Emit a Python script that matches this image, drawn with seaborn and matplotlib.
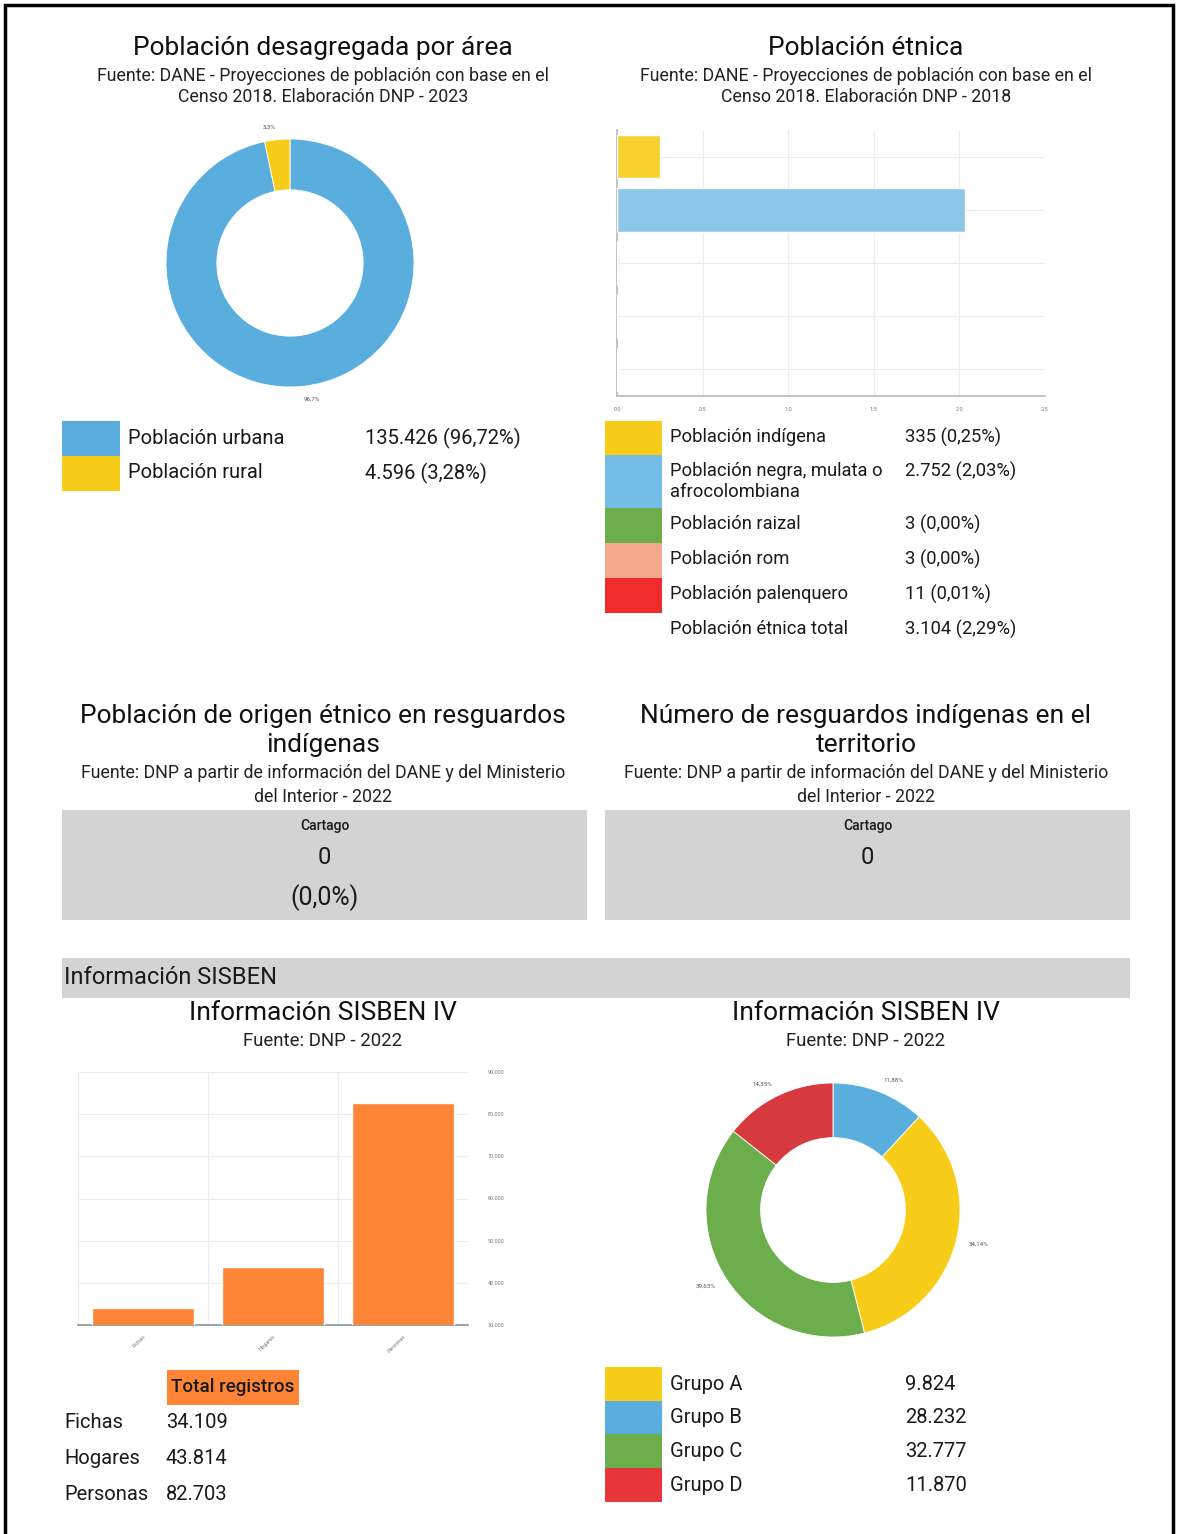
import seaborn as sns
import matplotlib.pyplot as plt
from matplotlib.patches import Rectangle
from matplotlib.ticker import FuncFormatter

# Datos de la ficha
area_labels = ['Población urbana', 'Población rural']
area_values = [135426, 4596]
area_text = ['135.426 (96,72%)', '4.596 (3,28%)']
area_pct = ['96,7%', '3,3%']
area_colors = ['#5aaede', '#f7cd1a']

etnia_labels = ['Población indígena', 'Población negra, mulata o\nafrocolombiana',
                'Población raizal', 'Población rom', 'Población palenquero']
etnia_pct = [0.25, 2.03, 0.002, 0.002, 0.008]
etnia_text = ['335 (0,25%)', '2.752 (2,03%)', '3 (0,00%)', '3 (0,00%)', '11 (0,01%)']
etnia_total = ['Población étnica total', '3.104 (2,29%)']
etnia_colors = ['#f7d22e', '#8cc6e8', '#6cae4c', '#f3a889', '#ef2b2b']
etnia_leg_colors = ['#f7cd1a', '#74bde6', '#6cae4c', '#f3a889', '#ef2b2b']
etnia_ticks = [0.0, 0.5, 1.0, 1.5, 2.0, 2.5]

sisben_cat = ['Fichas', 'Hogares', 'Personas']
sisben_vals = [34109, 43814, 82703]
sisben_text = ['34.109', '43.814', '82.703']
sisben_ticks = [30000, 40000, 50000, 60000, 70000, 80000, 90000]

grupo_labels = ['Grupo A', 'Grupo B', 'Grupo C', 'Grupo D']
grupo_vals = [9824, 28232, 32777, 11870]
grupo_text = ['9.824', '28.232', '32.777', '11.870']
grupo_colors = ['#f7cd1a', '#5aaede', '#6cae4c', '#e8343b']
# orden y colores de las porciones tal como aparecen en la dona
dona_vals = [9824, 28232, 32777, 11870]
dona_colors = ['#5aaede', '#f7cd1a', '#6cae4c', '#d63a3f']
dona_pct = ['11,88%', '34,14%', '39,63%', '14,35%']

naranja = '#fd8535'
gris = '#d3d3d3'

sns.set_theme(style='white')
plt.rcParams['font.family'] = ['Roboto', 'DejaVu Sans']

W, H = 1179, 1534
fig = plt.figure(figsize=(W / 100, H / 100), dpi=100)


def caja(x0, y0, x1, y1):
    return [x0 / W, 1 - y1 / H, (x1 - x0) / W, (y1 - y0) / H]


bg = fig.add_axes([0, 0, 1, 1])
bg.set_xlim(0, W)
bg.set_ylim(H, 0)
bg.axis('off')
bg.set_zorder(0)

# marco
bg.plot([5, 5, 1173, 1173], [H, 5, 5, H], color='black', lw=2.5, solid_joinstyle='miter')

tc = '#1a1a1a'


def titulo(x, y, lineas, sub, ts=19, ss=12.8, sp=21):
    for i, t in enumerate(lineas):
        bg.text(x, y + i * 29, t, ha='center', va='center', fontsize=ts, color='#111111')
    y2 = y + len(lineas) * 29 - 1
    for i, t in enumerate(sub):
        bg.text(x, y2 + i * sp, t, ha='center', va='center', fontsize=ss, color='#222222')


titulo(323, 48, ['Población desagregada por área'],
       ['Fuente: DANE - Proyecciones de población con base en el', 'Censo 2018. Elaboración DNP - 2023'])
titulo(866, 48, ['Población étnica'],
       ['Fuente: DANE - Proyecciones de población con base en el', 'Censo 2018. Elaboración DNP - 2018'])

# dona de área
ax1 = fig.add_axes(caja(166, 139, 414, 387))
ax1.pie(area_values, colors=area_colors, startangle=90, counterclock=False,
        labels=area_pct, labeldistance=1.1, textprops=dict(fontsize=4.5, color='#555555'),
        wedgeprops=dict(width=0.41, edgecolor='white', linewidth=0.6))
ax1.set_xlim(-1, 1)
ax1.set_ylim(-1, 1)
ax1.set_aspect('equal')

for i, (lab, txt, col) in enumerate(zip(area_labels, area_text, area_colors)):
    y0 = 421 + i * 35
    bg.add_patch(Rectangle((62, y0), 58, 35, color=col, lw=0))
    bg.text(128, y0 + 17, lab, va='center', fontsize=14.5, color=tc)
    bg.text(365, y0 + 17, txt, va='center', fontsize=14.5, color=tc)

# barras étnicas
ax2 = fig.add_axes(caja(617, 130, 1045, 396))
sns.barplot(x=etnia_pct, y=etnia_labels, hue=etnia_labels, palette=etnia_colors,
            saturation=1, legend=False, orient='h', width=0.82, ax=ax2, zorder=3)
ax2.set_xlim(0, 2.5)
ax2.set_xticks(etnia_ticks)
ax2.set_xticklabels([f'{t:.1f}' for t in etnia_ticks], fontsize=4, color='#777777')
ax2.set_yticklabels([])
ax2.tick_params(axis='both', length=0, pad=8)
ax2.grid(True, color='#ececec', lw=0.8, zorder=0)
ax2.set_axisbelow(True)
for s in ['top', 'right']:
    ax2.spines[s].set_visible(False)
for s in ['left', 'bottom']:
    ax2.spines[s].set_color('#bbbbbb')
ax2.set_xlabel('')
ax2.set_ylabel('')

fs_et = 13.2
filas = [(421, 34), (455, 53), (508, 35), (543, 35), (578, 35)]
for (y0, h), lab, txt, col in zip(filas, etnia_labels, etnia_text, etnia_leg_colors):
    bg.add_patch(Rectangle((605, y0), 57, h, color=col, lw=0))
    if '\n' in lab:
        a, b = lab.split('\n')
        bg.text(670, y0 + 16, a, va='center', fontsize=fs_et, color=tc)
        bg.text(670, y0 + 37, b, va='center', fontsize=fs_et, color=tc)
    else:
        bg.text(670, y0 + 16, lab, va='center', fontsize=fs_et, color=tc)
    bg.text(905, y0 + 16, txt, va='center', fontsize=fs_et, color=tc)
bg.text(670, 629, etnia_total[0], va='center', fontsize=fs_et, color=tc)
bg.text(905, 629, etnia_total[1], va='center', fontsize=fs_et, color=tc)

# resguardos
sub_res = ['Fuente: DNP a partir de información del DANE y del Ministerio', 'del Interior - 2022']
titulo(323, 716, ['Población de origen étnico en resguardos', 'indígenas'], sub_res, sp=24)
titulo(866, 716, ['Número de resguardos indígenas en el', 'territorio'], sub_res, sp=24)
for x0, x1, extra in [(62, 587, True), (605, 1130, False)]:
    bg.add_patch(Rectangle((x0, 810), x1 - x0, 110, color=gris, lw=0))
    xc = (x0 + x1) / 2
    bg.text(xc, 826, 'Cartago', ha='center', va='center', fontsize=10, color=tc,
            fontweight='medium')
    bg.text(xc, 858, '0', ha='center', va='center', fontsize=17, color=tc)
    if extra:
        bg.text(xc, 898, '(0,0%)', ha='center', va='center', fontsize=18, color=tc)

# banda SISBEN
bg.add_patch(Rectangle((62, 958), 1068, 40, color=gris, lw=0))
bg.text(64, 977, 'Información SISBEN', va='center', fontsize=17, color=tc)

titulo(323, 1013, ['Información SISBEN IV'], ['Fuente: DNP - 2022'], ss=13.4)
titulo(866, 1013, ['Información SISBEN IV'], ['Fuente: DNP - 2022'], ss=13.4)

# barras SISBEN
ax3 = fig.add_axes(caja(78, 1072, 468, 1325))
sns.barplot(x=sisben_cat, y=sisben_vals, color=naranja, saturation=1, width=0.78, ax=ax3, zorder=3)
ax3.set_ylim(30000, 90000)
ax3.set_yticks(sisben_ticks)
ax3.yaxis.tick_right()
ax3.yaxis.set_major_formatter(FuncFormatter(lambda v, p: f'{int(v):,}'.replace(',', '.')))
ax3.tick_params(axis='y', labelsize=4, labelcolor='#777777', length=0, pad=14)
ax3.set_xticks(range(len(sisben_cat)))
ax3.set_xticklabels(sisben_cat, rotation=45, ha='right', rotation_mode='anchor',
                    fontsize=4, color='#777777')
ax3.tick_params(axis='x', length=0, pad=6)
ax3.set_xticks([-0.5, 0.5, 1.5, 2.5], minor=True)
ax3.grid(True, axis='y', color='#ececec', lw=0.8)
ax3.grid(True, axis='x', which='minor', color='#ececec', lw=0.8)
ax3.set_axisbelow(True)
for s in ['top', 'right', 'left']:
    ax3.spines[s].set_visible(False)
ax3.spines['bottom'].set_color('#8a9aa8')
ax3.set_xlabel('')
ax3.set_ylabel('')

bg.add_patch(Rectangle((167, 1370), 132, 35, color=naranja, lw=0))
bg.text(233, 1387, 'Total registros', ha='center', va='center', fontsize=13.5, color=tc,
        fontweight='medium')
for i, (c, t) in enumerate(zip(sisben_cat, sisben_text)):
    y = 1423 + i * 35.5
    bg.text(64, y, c, va='center', fontsize=14.5, color=tc)
    bg.text(166, y, t, va='center', fontsize=14.5, color=tc)

# dona SISBEN
ax4 = fig.add_axes(caja(706, 1083, 960, 1337))
ax4.pie(dona_vals, colors=dona_colors, startangle=90, counterclock=False,
        labels=dona_pct, labeldistance=1.1, textprops=dict(fontsize=4.5, color='#555555'),
        wedgeprops=dict(width=0.43, edgecolor='white', linewidth=0.6))
ax4.set_xlim(-1, 1)
ax4.set_ylim(-1, 1)
ax4.set_aspect('equal')

for i, (lab, txt, col) in enumerate(zip(grupo_labels, grupo_text, grupo_colors)):
    y0 = 1367 + i * 33.7
    bg.add_patch(Rectangle((605, y0), 57, 33.7, color=col, lw=0))
    bg.text(670, y0 + 17, lab, va='center', fontsize=14.5, color=tc)
    bg.text(905, y0 + 17, txt, va='center', fontsize=14.5, color=tc)

fig.savefig('out.png', dpi=100)
